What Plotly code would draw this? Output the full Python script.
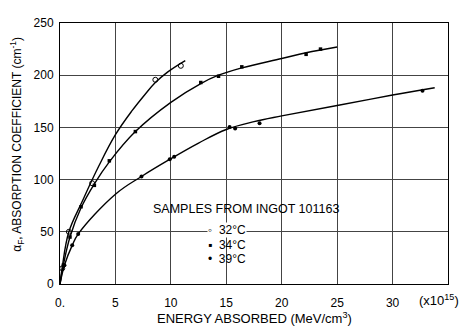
import plotly.graph_objects as go

# Data points (energy in 1e15 MeV/cm^3, alpha_F in cm^-1)
x_32 = [0.2, 0.8, 2.9, 8.6, 10.9]
y_32 = [15, 50, 96.5, 195.6, 209]

x_34 = [0.3, 0.9, 1.9, 3.1, 4.45, 6.8, 12.7, 14.3, 16.4, 22.2, 23.5]
y_34 = [18, 45, 74, 94.5, 118, 146, 193, 199, 208, 220, 225]

x_39 = [0.4, 1.1, 1.64, 7.35, 9.9, 10.3, 15.3, 15.8, 18.0, 32.7]
y_39 = [18, 37, 48, 103, 119.4, 122, 150.5, 149, 154, 185]

# Hand-drawn fitted curves
cx_32 = [0, 0.2, 0.8, 2.0, 3.5, 5.0, 6.5, 7.7, 8.6, 9.7, 11.3]
cy_32 = [0, 16, 50, 79, 113, 143, 166, 182, 193, 203, 214]

cx_34 = [0, 0.3, 0.9, 1.9, 3.1, 4.45, 6.8, 10.0, 12.7, 14.3, 16.4, 20.0, 22.2, 25.0]
cy_34 = [0, 18, 45, 73, 96, 117, 146, 174, 192, 200, 207, 216, 221.5, 227]

cx_39 = [0, 0.4, 1.1, 1.65, 5.0, 7.35, 10.0, 12.5, 15.0, 17.5, 20.0, 25.0, 30.0, 33.8]
cy_39 = [0, 18, 37, 48, 86, 103, 120, 135, 148, 155.5, 161, 171, 181, 188]

x_ticks = [0, 5, 10, 15, 20, 25, 30]
x_ticktext = ["0.", "5", "10", "15", "20", "25", "30"]
y_ticks = [0, 50, 100, 150, 200, 250]

legend_title = "SAMPLES FROM INGOT 101163"
legend_labels = ["\u25e6  32°C", "\u25aa  34°C", "\u2022  39°C"]

FONT = "Liberation Sans, Arial, sans-serif"

fig = go.Figure()
for cx, cy in [(cx_32, cy_32), (cx_34, cy_34), (cx_39, cy_39)]:
    fig.add_trace(go.Scatter(x=cx, y=cy, mode="lines",
                             line=dict(color="black", width=1.4, shape="spline", smoothing=1.1),
                             showlegend=False, hoverinfo="skip"))

fig.add_trace(go.Scatter(x=x_32, y=y_32, mode="markers", name="32°C", showlegend=False,
                         marker=dict(symbol="circle-open", size=5, color="black", line=dict(width=1, color="black"))))
fig.add_trace(go.Scatter(x=x_34, y=y_34, mode="markers", name="34°C", showlegend=False,
                         marker=dict(symbol="square", size=3.5, color="black")))
fig.add_trace(go.Scatter(x=x_39, y=y_39, mode="markers", name="39°C", showlegend=False,
                         marker=dict(symbol="circle", size=4, color="black")))

# legend block as text
fig.add_annotation(text=legend_title, xref="paper", yref="paper",
                   x=0.235, y=0.288, xanchor="left", yanchor="middle", showarrow=False,
                   font=dict(size=12.5, color="black", family=FONT))
for i, lab in enumerate(legend_labels):
    fig.add_annotation(text=lab, xref="paper", yref="paper",
                       x=0.378, y=0.208 - i * 0.057, xanchor="left", yanchor="middle", showarrow=False,
                       bgcolor="white" if i == 0 else "rgba(0,0,0,0)", borderpad=0,
                       font=dict(size=12, color="black", family=FONT))

# axis titles and the x10^15 multiplier
fig.add_annotation(text="(x10<sup>15</sup>)", xref="paper", yref="paper", x=1.033, y=-0.062,
                   xanchor="right", yanchor="middle", showarrow=False,
                   font=dict(size=13, color="black", family=FONT))
fig.add_annotation(text="ENERGY ABSORBED (MeV/cm<sup>3</sup>)", xref="paper", yref="paper", x=0.5, y=-0.131,
                   xanchor="center", yanchor="middle", showarrow=False,
                   font=dict(size=13, color="black", family=FONT))
fig.add_annotation(text="α<sub>F</sub>, ABSORPTION COEFFICIENT (cm<sup>-1</sup>)", xref="paper", yref="paper",
                   x=-0.111, y=0.537, xanchor="center", yanchor="middle", textangle=-90, showarrow=False,
                   font=dict(size=12, color="black", family=FONT))

# page body has an 8px margin: shrink the figure so the plot area lands where the reference has it
fig.update_layout(
    width=460, height=320,
    margin=dict(l=52, r=20, t=8, b=44),
    paper_bgcolor="white", plot_bgcolor="white",
    font=dict(family=FONT, size=12, color="black"),
    showlegend=False,
    xaxis=dict(range=[0, 35], tickvals=x_ticks, ticktext=x_ticktext, showgrid=True,
               gridcolor="#444", gridwidth=1, zeroline=False, showline=True, linecolor="black",
               linewidth=1, mirror=True, ticks="", ticklabelstandoff=8),
    yaxis=dict(range=[0, 250], tickvals=y_ticks, showgrid=True, gridcolor="#444", gridwidth=1,
               zeroline=False, showline=True, linecolor="black", linewidth=1, mirror=True, ticks="",
               ticklabelstandoff=3),
)

fig.write_html("out.html")
